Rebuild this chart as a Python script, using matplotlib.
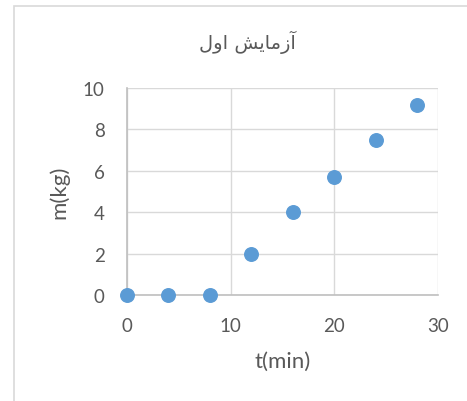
import matplotlib.pyplot as plt
from matplotlib.patches import Rectangle

# data
t_min = [0, 4, 8, 12, 16, 20, 24, 28]
m_kg = [0, 0, 0, 2, 4, 5.7, 7.5, 9.2]
x_ticks = [0, 10, 20, 30]
y_ticks = [0, 2, 4, 6, 8, 10]
# "آزمایش اول" in shaped presentation forms, visual order
title = "\uFEDD\uFEED\uFE8D \uFEB6\uFEF3\uFE8E\uFEE3\uFEAF\uFE81"

plt.rcParams['font.family'] = ['Lato', 'DejaVu Sans']

fig = plt.figure(figsize=(4.67, 4.02), dpi=100)
fig.patches.append(Rectangle((14 / 467, -0.1), 1.2, 1.1 - 7 / 402,
                             transform=fig.transFigure, fill=False,
                             edgecolor='#d9d9d9', linewidth=1.2))

ax = fig.add_axes([0.272, 0.2637, 0.666, 0.515])
ax.scatter(t_min, m_kg, s=95, color='#5b9bd5', zorder=3, clip_on=False)
ax.set_xlim(0, 30)
ax.set_ylim(0, 10)
ax.set_xticks(x_ticks)
ax.set_yticks(y_ticks)
ax.grid(True, color='#d9d9d9', linewidth=1)
for s in ['top', 'right']:
    ax.spines[s].set_visible(False)
for s in ['left', 'bottom']:
    ax.spines[s].set_color('#bfbfbf')
    ax.spines[s].set_linewidth(1.2)
ax.tick_params(axis='y', length=0, labelsize=13.5, labelcolor='#595959', pad=16)
ax.tick_params(axis='x', length=0, labelsize=13.5, labelcolor='#595959', pad=16)
ax.set_xlabel('t(min)', fontsize=16, color='#595959', labelpad=12)
ax.set_ylabel('m(kg)', fontsize=16, color='#595959', labelpad=10)
fig.text(0.529, 1 - 42 / 402, title, ha='center', va='center',
         fontsize=14, color='#595959', family='DejaVu Sans')

fig.savefig('out.png', dpi=100)
